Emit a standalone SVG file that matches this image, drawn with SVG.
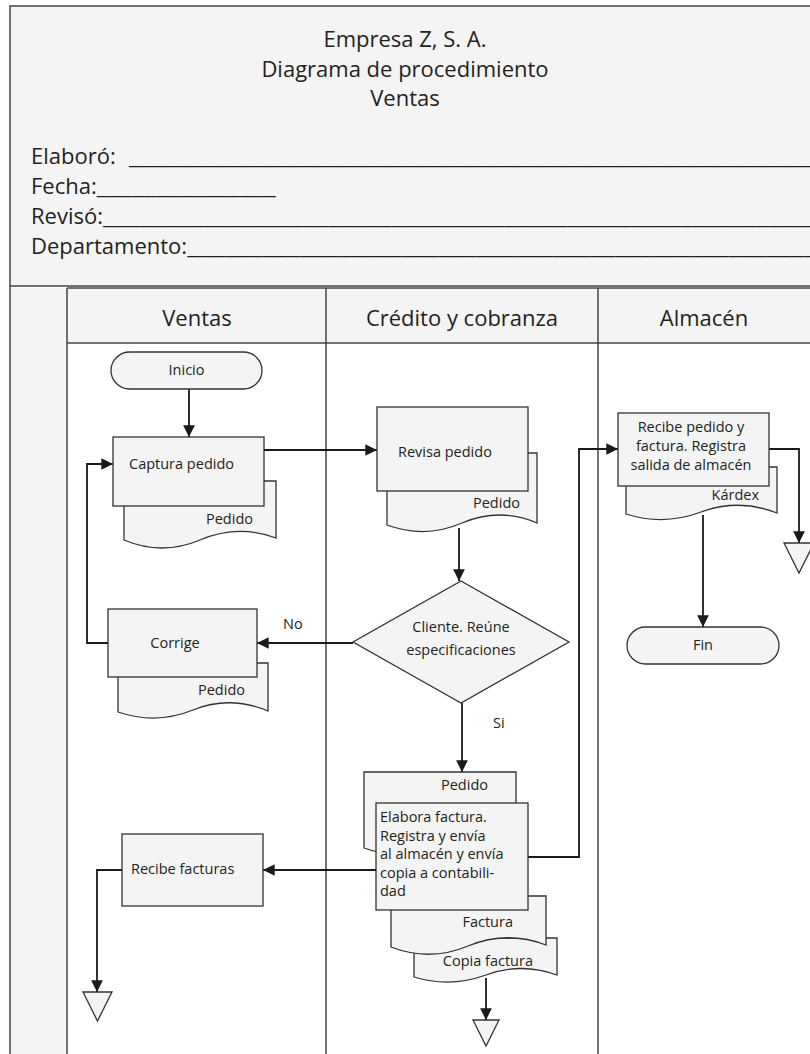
<svg xmlns="http://www.w3.org/2000/svg" width="810" height="1054" viewBox="0 0 810 1054">
<defs>
<style>
.big{font-family:"Open Sans","Liberation Sans",sans-serif;font-size:22px;fill:#231f20}
.t{font-family:"Open Sans","Liberation Sans",sans-serif;font-size:14.5px;fill:#231f20}
.mid{text-anchor:middle}
.end{text-anchor:end}
.box{fill:#f4f4f4;stroke:#333;stroke-width:1.3}
.lane{fill:none;stroke:#444;stroke-width:1.5}
.band{fill:#f4f4f4;stroke:none}
.c{fill:none;stroke:#1a1a1a;stroke-width:1.8}
</style>
<marker id="ah" viewBox="0 0 10 10" refX="10" refY="5" markerWidth="6.5" markerHeight="6.5" markerUnits="strokeWidth" orient="auto">
<path d="M0,0 L10,5 L0,10 Z" fill="#1a1a1a"/>
</marker>
</defs>
<rect width="810" height="1054" fill="#fff"/>

<g id="header">
<rect x="10" y="6" width="830" height="280" class="box" style="stroke:#444;stroke-width:1.5"/>
<text x="405" y="47" class="big mid">Empresa Z, S. A.</text>
<text x="405" y="77" class="big mid">Diagrama de procedimiento</text>
<text x="405" y="106" class="big mid">Ventas</text>
<text x="31" y="164" class="big">Elaboró: <tspan x="129" textLength="700" lengthAdjust="spacingAndGlyphs">________________________________________________________</tspan></text>
<text x="31" y="194" class="big">Fecha:<tspan textLength="179" lengthAdjust="spacingAndGlyphs">_______________</tspan></text>
<text x="31" y="224" class="big">Revisó:<tspan textLength="728" lengthAdjust="spacingAndGlyphs">__________________________________________________________</tspan></text>
<text x="31" y="254" class="big">Departamento:<tspan textLength="642" lengthAdjust="spacingAndGlyphs">___________________________________________________</tspan></text>
</g>

<g id="lanes">
<rect x="10" y="288" width="57" height="770" class="band"/>
<rect x="67" y="288" width="760" height="55" class="band"/>
<line x1="67" y1="288" x2="820" y2="288" class="lane"/>
<line x1="67" y1="343" x2="820" y2="343" class="lane"/>
<line x1="10" y1="286" x2="10" y2="1060" class="lane"/>
<line x1="67" y1="288" x2="67" y2="1060" class="lane"/>
<line x1="326" y1="288" x2="326" y2="1060" class="lane"/>
<line x1="598" y1="288" x2="598" y2="1060" class="lane"/>
<text x="197" y="326" class="big mid">Ventas</text>
<text x="462" y="326" class="big mid">Crédito y cobranza</text>
<text x="704" y="326" class="big mid">Almacén</text>
</g>

<g id="connectors">
<line x1="189" y1="389" x2="189" y2="437" class="c" marker-end="url(#ah)"/>
<line x1="264" y1="450" x2="377" y2="450" class="c" marker-end="url(#ah)"/>
<line x1="459" y1="528" x2="459" y2="581" class="c" marker-end="url(#ah)"/>
<line x1="353" y1="643" x2="257" y2="643" class="c" marker-end="url(#ah)"/>
<polyline points="108,643 87,643 87,464 113,464" class="c" marker-end="url(#ah)"/>
<line x1="462" y1="703" x2="462" y2="772" class="c" marker-end="url(#ah)"/>
<polyline points="528,857 579,857 579,449 618,449" class="c" marker-end="url(#ah)"/>
<line x1="376" y1="870" x2="263" y2="870" class="c" marker-end="url(#ah)"/>
<polyline points="122,870 97,870 97,992" class="c" marker-end="url(#ah)"/>
<line x1="486" y1="978" x2="486" y2="1020" class="c" marker-end="url(#ah)"/>
<polyline points="769,449 799,449 799,543" class="c" marker-end="url(#ah)"/>
<line x1="703" y1="515" x2="703" y2="627" class="c" marker-end="url(#ah)"/>
<text x="283" y="629" class="t">No</text>
<text x="493" y="728" class="t">Si</text>
</g>

<g id="inicio">
<rect x="111" y="352" width="151" height="37" rx="18.5" class="box"/>
<text x="186.5" y="375" class="t mid">Inicio</text>
</g>

<g id="doc-captura">
<path d="M124,481 H276 V538 Q238,524 200,540 Q162,556 124,540 Z" class="box"/>
<text x="253" y="524" class="t end">Pedido</text>
</g>
<g id="captura">
<rect x="113" y="437" width="151" height="69" class="box"/>
<text x="129" y="469" class="t">Captura pedido</text>
</g>

<g id="doc-revisa">
<path d="M387,453 H537 V523 Q500,507 462,523 Q425,539 387,525 Z" class="box"/>
<text x="520" y="508" class="t end">Pedido</text>
</g>
<g id="revisa">
<rect x="377" y="407" width="151" height="84" class="box"/>
<text x="398" y="457" class="t">Revisa pedido</text>
</g>

<g id="decision">
<polygon points="461,581 569,642 461,703 353,642" class="box"/>
<text x="461" y="632" class="t mid">Cliente. Reúne</text>
<text x="461" y="655" class="t mid">especificaciones</text>
</g>

<g id="doc-corrige">
<path d="M118,663 H268 V711 Q230,695 193,710 Q156,725 118,712 Z" class="box"/>
<text x="245" y="695" class="t end">Pedido</text>
</g>
<g id="corrige">
<rect x="108" y="609" width="149" height="68" class="box"/>
<text x="175" y="648" class="t mid">Corrige</text>
</g>

<g id="doc-kardex">
<path d="M626,467 H777 V513 Q739,498 701,512 Q664,526 626,514 Z" class="box"/>
<text x="759" y="500" class="t end">Kárdex</text>
</g>
<g id="recibe-pedido">
<rect x="618" y="413" width="151" height="73" class="box"/>
<text x="691" y="432" class="t mid">Recibe pedido y</text>
<text x="691" y="451" class="t mid">factura. Registra</text>
<text x="691" y="470" class="t mid">salida de almacén</text>
</g>

<g id="fin">
<rect x="627" y="627" width="152" height="37" rx="18.5" class="box"/>
<text x="703" y="650" class="t mid">Fin</text>
</g>

<g id="doc-pedido2">
<path d="M364,772 H516 V846 Q478,832 440,847 Q402,862 364,848 Z" class="box"/>
<text x="488" y="790" class="t end">Pedido</text>
</g>
<g id="doc-copia">
<path d="M414,938 H557 V975 Q521,962 486,975 Q450,988 414,977 Z" class="box"/>
<text x="533" y="966" class="t end">Copia factura</text>
</g>
<g id="doc-factura">
<path d="M391,896 H546 V945 Q507,930 468,946 Q430,962 391,947 Z" class="box"/>
<text x="513" y="927" class="t end">Factura</text>
</g>
<g id="elabora">
<rect x="376" y="803" width="152" height="107" class="box"/>
<text x="380" y="822" class="t">Elabora factura.</text>
<text x="380" y="840.5" class="t">Registra y envía</text>
<text x="380" y="859" class="t">al almacén y envía</text>
<text x="380" y="877.5" class="t">copia a contabili-</text>
<text x="380" y="896" class="t">dad</text>
</g>

<g id="recibe-facturas">
<rect x="122" y="834" width="141" height="72" class="box"/>
<text x="131" y="874" class="t">Recibe facturas</text>
</g>

<g id="fin-ventas">
<polygon points="83,992 112,992 97.5,1021" class="box"/>
</g>
<g id="fin-credito">
<polygon points="473,1020 499,1020 486,1046" class="box"/>
</g>
<g id="fin-almacen">
<polygon points="784,543 814,543 799,573" class="box"/>
</g>
</svg>
